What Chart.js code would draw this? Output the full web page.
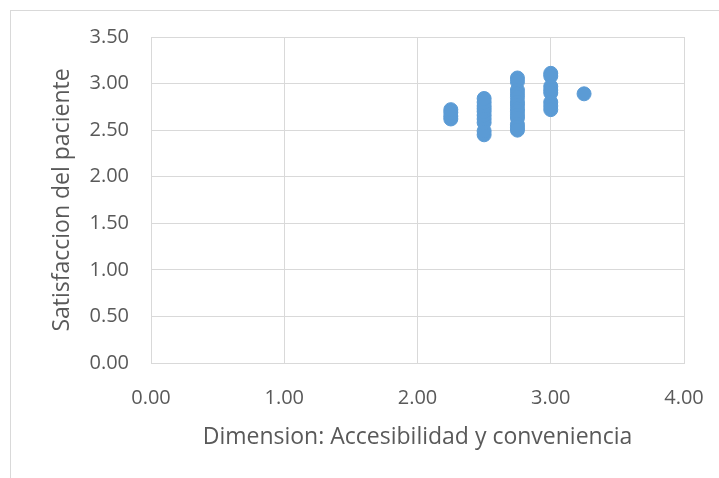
<!DOCTYPE html>
<html>
<head>
<meta charset="utf-8">
<script src="https://cdn.jsdelivr.net/npm/chart.js@4.4.1/dist/chart.umd.min.js"></script>
<style>
  body { margin: 0; background: #fff; }
  #wrap { position: relative; width: 719px; height: 478px; }
  #frame {
    position: absolute; left: 10px; top: 10px; right: 0; bottom: 0;
    border-left: 1px solid #d9d9d9; border-top: 1px solid #d9d9d9;
  }
  canvas { position: absolute; left: 0; top: 0; }
</style>
</head>
<body>
<div id="wrap">
  <div id="frame"></div>
  <canvas id="chart" width="719" height="478"></canvas>
</div>
<script>
// ===== DATA =====
// accesibilidad y conveniencia (x) per patient
const xAcces = [
  2.25, 2.25, 2.25, 2.25,
  2.5, 2.5, 2.5, 2.5, 2.5, 2.5, 2.5, 2.5, 2.5, 2.5,
  2.75, 2.75, 2.75, 2.75, 2.75, 2.75, 2.75, 2.75, 2.75, 2.75, 2.75, 2.75, 2.75, 2.75,
  3.0, 3.0, 3.0, 3.0, 3.0, 3.0, 3.0, 3.0,
  3.25,
];
// satisfaccion del paciente (y)
const ySatisf = [
  2.62, 2.65, 2.69, 2.72,
  2.45, 2.49, 2.58, 2.62, 2.66, 2.70, 2.73, 2.76, 2.80, 2.84,
  3.06, 3.02, 2.93, 2.89, 2.85, 2.80, 2.77, 2.73, 2.70, 2.66, 2.63, 2.56, 2.53, 2.50,
  3.11, 3.08, 2.97, 2.93, 2.90, 2.80, 2.76, 2.72,
  2.89,
];
const xTicks = [0, 1, 2, 3, 4];
const yTicks = [0, 0.5, 1, 1.5, 2, 2.5, 3, 3.5];
const xTitle = "Dimension: Accesibilidad y conveniencia";
const yTitle = "Satisfaccion del paciente";

const points = xAcces.map((x, i) => ({ x: x, y: ySatisf[i] }));

const gridColor = "#d9d9d9";
const textColor = "#595959";
const fontFamily = "'Open Sans', 'Noto Sans', sans-serif";

const ctx = document.getElementById("chart");
new Chart(ctx, {
  type: "scatter",
  data: {
    datasets: [
      {
        data: points,
        backgroundColor: "#5b9bd5",
        borderColor: "#5b9bd5",
        borderWidth: 1,
        pointRadius: 7,
      },
    ],
  },
  options: {
    responsive: false,
    animation: false,
    layout: { padding: { top: 37, right: 35, left: 0, bottom: 0 } },
    plugins: { legend: { display: false }, tooltip: { enabled: false } },
    scales: {
      x: {
        type: "linear",
        min: 0,
        max: 4,
        afterBuildTicks: (axis) => {
          axis.ticks = xTicks.map((v) => ({ value: v }));
        },
        afterFit: (axis) => {
          axis.height = 115;
          axis.paddingLeft = 0;
          axis.paddingRight = 0;
        },
        grid: { color: gridColor, drawTicks: false },
        border: { color: gridColor },
        ticks: {
          padding: 23,
          color: textColor,
          font: { family: fontFamily, size: 20 },
          callback: (v) => Number(v).toFixed(2),
        },
        title: {
          display: true,
          text: xTitle,
          color: textColor,
          font: { family: fontFamily, size: 23 },
          padding: { top: 0, bottom: 27 },
        },
      },
      y: {
        type: "linear",
        min: 0,
        max: 3.5,
        afterBuildTicks: (axis) => {
          axis.ticks = yTicks.map((v) => ({ value: v }));
        },
        afterFit: (axis) => {
          axis.width = 151;
          axis.paddingTop = 0;
          axis.paddingBottom = 0;
        },
        grid: { color: gridColor, drawTicks: false },
        border: { color: gridColor },
        ticks: {
          padding: 22,
          color: textColor,
          font: { family: fontFamily, size: 20 },
          callback: (v) => Number(v).toFixed(2),
        },
        title: {
          display: true,
          text: yTitle,
          color: textColor,
          font: { family: fontFamily, size: 23 },
          padding: { top: 49, bottom: 0 },
        },
      },
    },
  },
});
</script>
</body>
</html>
